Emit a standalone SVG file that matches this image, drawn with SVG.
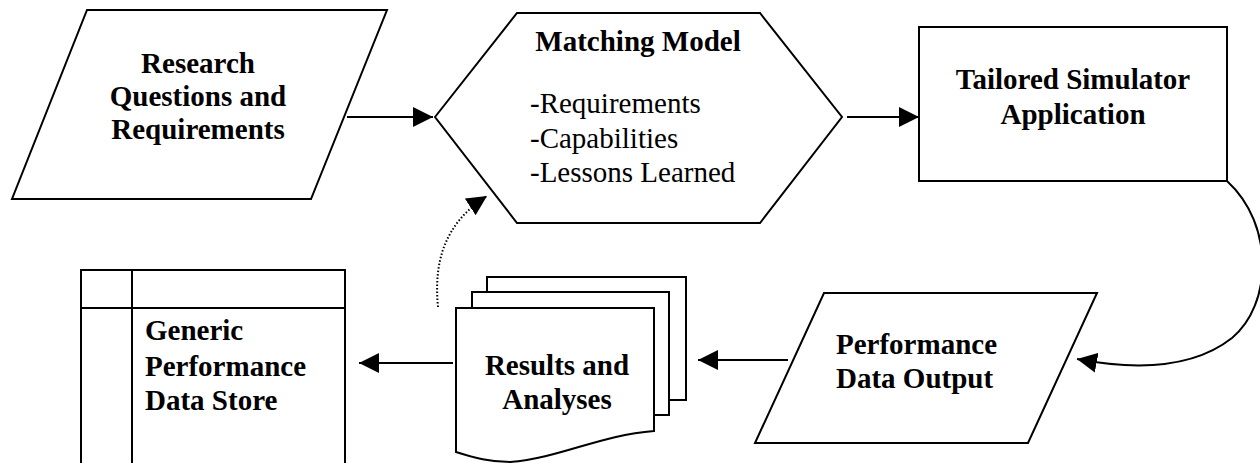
<svg xmlns="http://www.w3.org/2000/svg" width="1260" height="463" viewBox="0 0 1260 463">
<style>
.sh{fill:#fff;stroke:#000;stroke-width:2}
.b{font-family:"Liberation Serif","Times New Roman",serif;font-size:29px;font-weight:bold;fill:#000}
.r{font-family:"Liberation Serif","Times New Roman",serif;font-size:29px;fill:#000}
.c{text-anchor:middle}
.ln{fill:none;stroke:#000;stroke-width:2}
.dot{fill:none;stroke:#000;stroke-width:2;stroke-dasharray:1.5 2}
</style>
<defs>
<marker id="ah" viewBox="0 0 20 20" refX="20" refY="10" markerWidth="20" markerHeight="20" markerUnits="userSpaceOnUse" orient="auto">
<path d="M0,0 L20,10 L0,20 Z" fill="#000"/>
</marker>
</defs>
<rect width="1260" height="463" fill="#fff"/>
<g id="research">
<polygon class="sh" points="87,10 387,10 311,199 12,199"/>
<text class="b c" x="198" y="73">Research</text>
<text class="b c" x="198" y="106">Questions and</text>
<text class="b c" x="198" y="139">Requirements</text>
</g>
<g id="matching">
<polygon class="sh" points="435,117 517,13 760,13 842,117 760,223 517,223"/>
<text class="b c" x="638" y="51">Matching Model</text>
<text class="r" x="530" y="113">-Requirements</text>
<text class="r" x="530" y="148">-Capabilities</text>
<text class="r" x="530" y="182">-Lessons Learned</text>
</g>
<g id="simulator">
<rect class="sh" x="919" y="27" width="308" height="154"/>
<text class="b c" x="1073" y="89">Tailored Simulator</text>
<text class="b c" x="1073" y="124">Application</text>
</g>
<g id="perfout">
<polygon class="sh" points="824,293 1097,293 1028,443 755,443"/>
<text class="b" x="836" y="354">Performance</text>
<text class="b" x="836" y="388">Data Output</text>
</g>
<g id="results">
<rect class="sh" x="487" y="277" width="199" height="123"/>
<rect class="sh" x="472" y="292" width="197" height="123"/>
<path class="sh" d="M456,308 L654,308 L654,431 C600,435 560,458 510,462 C490,462 475,458 456,452 Z"/>
<text class="b c" x="557" y="375">Results and</text>
<text class="b c" x="557" y="409">Analyses</text>
</g>
<g id="store">
<rect class="sh" x="81" y="270" width="264" height="210"/>
<line class="ln" x1="81" y1="308" x2="345" y2="308"/>
<line class="ln" x1="132" y1="270" x2="132" y2="470"/>
<text class="b" x="145" y="340">Generic</text>
<text class="b" x="145" y="376">Performance</text>
<text class="b" x="145" y="410">Data Store</text>
</g>
<g id="connectors">
<line class="ln" x1="347" y1="117" x2="433" y2="117" marker-end="url(#ah)"/>
<line class="ln" x1="847" y1="117" x2="919" y2="117" marker-end="url(#ah)"/>
<path class="ln" d="M1227,181 C1275,225 1272,305 1232,338 C1195,367 1140,371 1077,359" marker-end="url(#ah)"/>
<line class="ln" x1="788" y1="360" x2="698" y2="360" marker-end="url(#ah)"/>
<line class="ln" x1="453" y1="363" x2="359" y2="363" marker-end="url(#ah)"/>
<path class="dot" d="M438,307 C434,265 442,225 487,196" marker-end="url(#ah)"/>
</g>
</svg>
